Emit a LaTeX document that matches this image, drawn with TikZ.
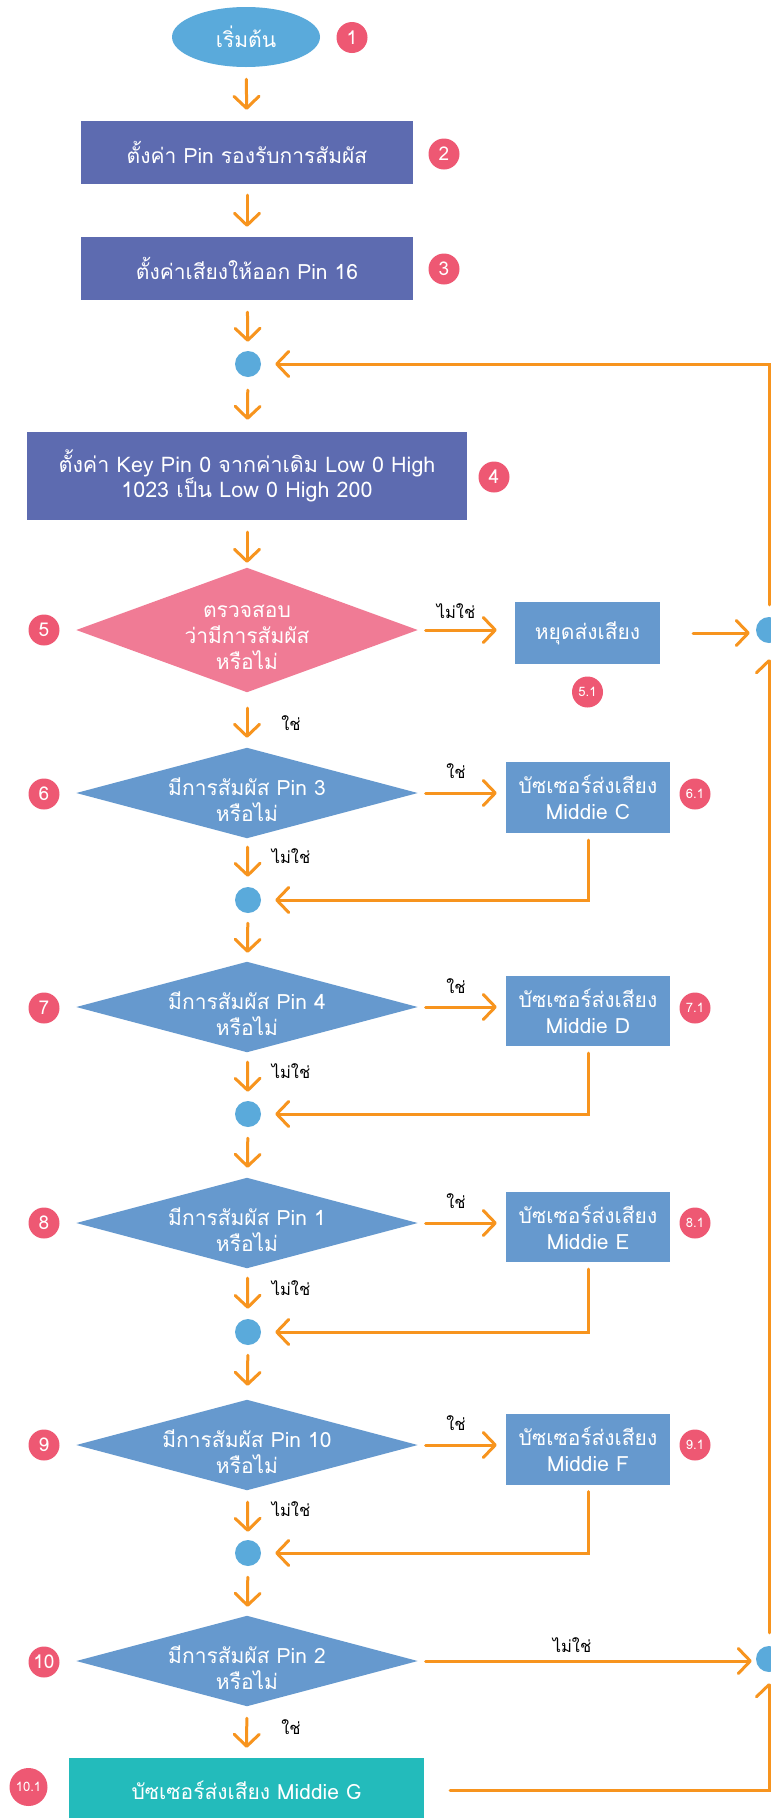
\documentclass[tikz,border=0pt]{standalone}
\usepackage{fontspec}
\newfontfamily\thai[Script=Thai]{Loma}
\usetikzlibrary{arrows.meta,backgrounds,shapes.geometric}
\definecolor{orn}{HTML}{F7941E}
\definecolor{slate}{HTML}{5D6BB0}
\definecolor{lblue}{HTML}{6699CE}
\definecolor{pinkd}{HTML}{F07B95}
\definecolor{dotb}{HTML}{5AAADB}
\definecolor{badgec}{HTML}{EE5873}
\definecolor{teal2}{HTML}{23BBBB}
\begin{document}
\begin{tikzpicture}[x=1pt,y=-1pt,
  txt/.style={text=white,font=\thai\fontsize{21}{26}\selectfont,align=center,inner sep=0pt},
  proc/.style={txt,rectangle,fill=slate},
  sub/.style={txt,rectangle,fill=lblue},
  dia/.style={rectangle,inner sep=0pt,minimum width=341pt,minimum height=90pt},
  dtxt/.style={txt,yshift=-7pt},
  dot/.style={circle,fill=dotb,minimum size=26pt,inner sep=0pt},
  badge/.style={circle,fill=badgec,minimum size=31pt,inner sep=0pt,text=white,font=\thai\fontsize{19}{19}\selectfont},
  sbadge/.style={badge,font=\thai\fontsize{13}{13}\selectfont},
  arr/.style={draw=orn,line width=3pt,line cap=round,-{Straight Barb[length=12pt,width=25pt,line cap=round,line join=round]}},
  lbl/.style={text=black,font=\thai\fontsize{16.5}{18}\selectfont,inner sep=0pt}]
\useasboundingbox (0,0) rectangle (771,1818);

% main column
\node[txt,ellipse,fill=dotb,minimum width=148pt,minimum height=60pt] (start) at (246,37) {เริ่มต้น};
\node[badge] (n1) at (352,37.5) {1};
\node[proc,minimum width=332pt,minimum height=63pt] (b2) at (247,152.5) {ตั้งค่า Pin รองรับการสัมผัส};
\node[badge] (n2) at (444,154) {2};
\node[proc,minimum width=332pt,minimum height=63pt] (b3) at (247,268.5) {ตั้งค่าเสียงให้ออก Pin 16};
\node[badge] (n3) at (444,269) {3};
\node[dot] (dot1) at (248,364) {};
\node[proc,minimum width=440pt,minimum height=88pt,font=\thai\fontsize{21.5}{25}\selectfont] (b4) at (247,476) {ตั้งค่า Key Pin 0 จากค่าเดิม Low 0 High\\1023 เป็น Low 0 High 200};
\node[badge] (n4) at (494,477) {4};
\node[dia,minimum height=124pt] (d5) at (247,630) {};
\node[dtxt] (d5t) at (d5) {ตรวจสอบ\\ว่ามีการสัมผัส\\หรือไม่};
\node[badge] (n5) at (44,630) {5};
\node[sub,minimum width=145pt,minimum height=62pt] (s51) at (587.5,633) {หยุดส่งเสียง};
\node[sbadge] (n51) at (587.5,692) {5.1};
\node[dot] (rdot1) at (769,630) {};

\node[dia] (d6) at (247,793) {};
\node[dtxt] (d6t) at (d6) {มีการสัมผัส Pin 3\\หรือไม่};
\node[badge] (n6) at (44,794) {6};
\node[sub,minimum width=164pt,minimum height=71pt] (s61) at (588,797.5) {บัซเซอร์ส่งเสียง\\Middie C};
\node[sbadge] (n61) at (695,794) {6.1};
\node[dot] (dot2) at (248,900) {};

\node[dia] (d7) at (247,1007) {};
\node[dtxt] (d7t) at (d7) {มีการสัมผัส Pin 4\\หรือไม่};
\node[badge] (n7) at (44,1008) {7};
\node[sub,minimum width=164pt,minimum height=70pt] (s71) at (588,1011) {บัซเซอร์ส่งเสียง\\Middie D};
\node[sbadge] (n71) at (695,1008) {7.1};
\node[dot] (dot3) at (248,1114) {};

\node[dia] (d8) at (247,1223) {};
\node[dtxt] (d8t) at (d8) {มีการสัมผัส Pin 1\\หรือไม่};
\node[badge] (n8) at (44,1223) {8};
\node[sub,minimum width=164pt,minimum height=70pt] (s81) at (588,1227) {บัซเซอร์ส่งเสียง\\Middie E};
\node[sbadge] (n81) at (695,1223) {8.1};
\node[dot] (dot4) at (248,1332) {};

\node[dia] (d9) at (247,1445) {};
\node[dtxt] (d9t) at (d9) {มีการสัมผัส Pin 10\\หรือไม่};
\node[badge] (n9) at (44,1445) {9};
\node[sub,minimum width=164pt,minimum height=71pt] (s91) at (588,1449) {บัซเซอร์ส่งเสียง\\Middie F};
\node[sbadge] (n91) at (695,1445) {9.1};
\node[dot] (dot5) at (248,1553) {};

\node[dia] (d10) at (247,1661) {};
\node[dtxt] (d10t) at (d10) {มีการสัมผัส Pin 2\\หรือไม่};
\node[badge] (n10) at (44,1662) {10};
\node[dot] (rdot2) at (769,1659) {};
\node[txt,rectangle,fill=teal2,minimum width=355pt,minimum height=64pt] (b101) at (246.5,1790) {บัซเซอร์ส่งเสียง Middie G};
\node[sbadge,minimum size=38pt] (n101) at (28.5,1787) {10.1};

% background and diamond fills
\begin{scope}[on background layer]
\fill[white] (0,0) rectangle (771,1818);
\fill[pinkd] (d5.north) -- (d5.east) -- (d5.south) -- (d5.west) -- cycle;
\foreach \d in {d6,d7,d8,d9,d10}{
  \fill[lblue] (\d.north) -- (\d.east) -- (\d.south) -- (\d.west) -- cycle;}
\end{scope}

% vertical arrows
\draw[arr,shorten <=12pt,shorten >=11pt] (start) -- (b2);
\draw[arr,shorten <=11pt,shorten >=10pt] (b2) -- (b3);
\draw[arr,shorten <=12pt,shorten >=9pt] (b3) -- (dot1);
\draw[arr,shorten <=13pt,shorten >=12pt] (dot1) -- (b4);
\draw[arr,shorten <=12pt,shorten >=5pt] (b4) -- (d5);
\draw[arr,shorten <=16pt,shorten >=10pt] (d5) -- (d6);
\draw[arr,shorten <=9pt,shorten >=10pt] (d6) -- (dot2);
\draw[arr,shorten <=10pt,shorten >=9pt] (dot2) -- (d7);
\draw[arr,shorten <=10pt,shorten >=9pt] (d7) -- (dot3);
\draw[arr,shorten <=11pt,shorten >=10pt] (dot3) -- (d8);
\draw[arr,shorten <=10pt,shorten >=10pt] (d8) -- (dot4);
\draw[arr,shorten <=10pt,shorten >=14pt] (dot4) -- (d9);
\draw[arr,shorten <=12pt,shorten >=8pt] (d9) -- (dot5);
\draw[arr,shorten <=11pt,shorten >=9pt] (dot5) -- (d10);
\draw[arr,shorten <=12pt,shorten >=10pt] (d10) -- (b101);

% yes/no branches
\draw[arr,shorten <=8pt,shorten >=18pt] (d5.east) -- (d5.east -| s51.west);
\draw[arr,shorten <=33pt,shorten >=6pt] (s51.east) -- (s51.east -| rdot1.west);
\foreach \d/\s/\o in {d6/s61/dot2,d7/s71/dot3,d8/s81/dot4,d9/s91/dot5}{
  \draw[arr,shorten <=8pt,shorten >=9pt] (\d.east) -- (\d.east -| \s.west);
  \draw[arr,shorten <=7pt,shorten >=14pt] (\s.south) |- (\o);}
\draw[arr,shorten <=8pt,shorten >=4pt] (d10.east) -- (d10.east -| rdot2.west);
\draw[arr,shorten <=26pt,shorten >=11pt] (b101) -| (rdot2);
\draw[arr,shorten <=13pt,shorten >=16pt] (rdot2) -- (rdot1);
\draw[arr,shorten <=12pt,shorten >=14pt] (rdot1) |- (dot1);

% labels
\node[lbl] (l5n) at (456,611) {ไม่ใช่};
\node[lbl] (l5y) at (291,723) {ใช่};
\node[lbl] (l6y) at (456,771) {ใช่};
\node[lbl] (l6n) at (291,856) {ไม่ใช่};
\node[lbl] (l7y) at (456,986) {ใช่};
\node[lbl] (l7n) at (291,1071) {ไม่ใช่};
\node[lbl] (l8y) at (456,1201) {ใช่};
\node[lbl] (l8n) at (291,1288) {ไม่ใช่};
\node[lbl] (l9y) at (456,1423) {ใช่};
\node[lbl] (l9n) at (291,1509) {ไม่ใช่};
\node[lbl] (l10n) at (572,1645) {ไม่ใช่};
\node[lbl] (l10y) at (291,1727) {ใช่};
\end{tikzpicture}
\end{document}
